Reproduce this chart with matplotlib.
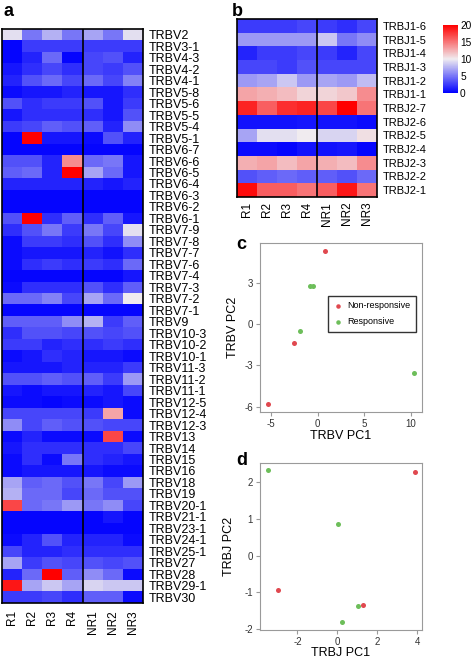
import numpy as np
import matplotlib
matplotlib.use("Agg")
import matplotlib.pyplot as plt
from matplotlib.colors import LinearSegmentedColormap

plt.rcParams['font.family'] = ['Liberation Sans', 'DejaVu Sans']
plt.rcParams['axes.unicode_minus'] = False

samples = ["R1", "R2", "R3", "R4", "NR1", "NR2", "NR3"]

trbv_genes = ["TRBV2", "TRBV3-1", "TRBV4-3", "TRBV4-2", "TRBV4-1", "TRBV5-8", "TRBV5-6",
              "TRBV5-5", "TRBV5-4", "TRBV5-1", "TRBV6-7", "TRBV6-6", "TRBV6-5", "TRBV6-4",
              "TRBV6-3", "TRBV6-2", "TRBV6-1", "TRBV7-9", "TRBV7-8", "TRBV7-7", "TRBV7-6",
              "TRBV7-4", "TRBV7-3", "TRBV7-2", "TRBV7-1", "TRBV9", "TRBV10-3", "TRBV10-2",
              "TRBV10-1", "TRBV11-3", "TRBV11-2", "TRBV11-1", "TRBV12-5", "TRBV12-4",
              "TRBV12-3", "TRBV13", "TRBV14", "TRBV15", "TRBV16", "TRBV18", "TRBV19",
              "TRBV20-1", "TRBV21-1", "TRBV23-1", "TRBV24-1", "TRBV25-1", "TRBV27",
              "TRBV28", "TRBV29-1", "TRBV30"]

trbv_vals = [
    [9.5, 5, 7.5, 5, 7, 5, 9.5],
    [0.3, 2.5, 2.5, 2.5, 2.5, 2.5, 2.5],
    [0.3, 1.5, 4.5, 0.3, 3, 3.5, 1.5],
    [1, 2, 3, 2, 3, 2.5, 3.5],
    [1.5, 3.5, 4.5, 3, 4.5, 3, 5.5],
    [0.5, 1, 1, 1.5, 1, 1, 2],
    [3.5, 2, 2.5, 2.5, 3.5, 1, 2.5],
    [1, 2, 2, 2, 2, 1, 3.5],
    [2.5, 3, 4, 3.5, 4, 1.5, 6],
    [0.3, 20, 1, 1, 0.5, 3.5, 1.5],
    [0.3, 0.3, 0.3, 0.3, 0.3, 0.3, 0.3],
    [3.5, 3.5, 1.5, 14, 4.5, 5, 1],
    [4, 4.5, 1.5, 20, 7, 4.5, 1],
    [1.5, 1.5, 1.5, 1.5, 1.5, 1, 1.5],
    [0.3, 0.3, 0.3, 0.3, 0.3, 0.3, 0.3],
    [0.3, 0.3, 0.3, 0.3, 0.3, 0.3, 0.3],
    [3.5, 20, 2, 4, 2, 4, 1],
    [2, 3.5, 5, 2.5, 5, 3, 9.5],
    [0.5, 2.5, 2.5, 2, 3.5, 2, 6],
    [0.5, 1, 1, 1, 1.5, 0.8, 2],
    [0.5, 2, 2.5, 2, 2.5, 2, 4.5],
    [0.3, 0.3, 0.3, 0.3, 0.3, 0.3, 1],
    [0.5, 2, 2, 2, 3.5, 2, 4],
    [4.5, 4.5, 5.5, 3, 7, 4.5, 10],
    [0.3, 0.3, 0.3, 0.3, 0.3, 0.3, 0.3],
    [4, 4, 4, 6, 7.5, 2.5, 4],
    [2, 3.5, 3.5, 3, 3.5, 3, 3.5],
    [2.5, 2.5, 1.5, 2, 2, 2.5, 2],
    [0.5, 1, 2, 1.5, 1, 1, 0.5],
    [1, 1, 1, 1.5, 1.5, 1.5, 2.5],
    [3.5, 3.5, 4, 3.5, 4, 2.5, 6.5],
    [1, 0.5, 1, 1, 1.5, 1, 3],
    [0.5, 0.5, 0.3, 0.5, 0.5, 1, 0.5],
    [3, 3, 3, 3, 2.5, 13, 0.5],
    [6, 3, 4, 3.5, 3.5, 3, 3],
    [0.5, 1.5, 0.5, 0.5, 0.5, 17, 0.5],
    [1, 2, 2, 2, 2, 2, 3],
    [0.5, 2, 0.5, 5, 2, 1.5, 1],
    [0.5, 1, 1, 1, 1, 0.5, 0.5],
    [7, 4, 4.5, 3.5, 5, 3, 6.5],
    [7.5, 4.5, 4.5, 3, 4.5, 3.5, 3.5],
    [17, 4.5, 5, 6.5, 5, 6, 3],
    [0.3, 0.3, 0.3, 0.3, 0.3, 1, 0.3],
    [0.3, 0.3, 0.3, 0.3, 0.3, 0.3, 0.3],
    [0.5, 1.5, 3.5, 1.5, 1.5, 1.5, 0.5],
    [3, 1.5, 1.5, 2, 2, 2, 2],
    [7, 2.5, 3.5, 3, 3.5, 3, 3.5],
    [1.5, 4.5, 20, 4, 6, 4.5, 0.5],
    [19, 7, 8.5, 7, 9, 8.5, 8.5],
    [2.5, 2.5, 3, 2, 4, 4, 0.5],
]

trbj_genes = ["TRBJ1-6", "TRBJ1-5", "TRBJ1-4", "TRBJ1-3", "TRBJ1-2", "TRBJ1-1", "TRBJ2-7",
              "TRBJ2-6", "TRBJ2-5", "TRBJ2-4", "TRBJ2-3", "TRBJ2-2", "TRBJ2-1"]

trbj_vals = [
    [2.5, 2.5, 2.5, 3, 2.5, 2, 3],
    [6.5, 6.5, 6.5, 6.5, 8.5, 5, 6],
    [1.5, 2.5, 2.5, 3, 2.5, 1.5, 3],
    [3, 3, 2.5, 3.5, 3, 3, 3],
    [6.5, 7, 8.5, 6.5, 7, 6.5, 8],
    [13, 12.5, 12, 11, 11, 11.5, 14],
    [18.5, 16, 18, 18.5, 17, 20, 15],
    [0.8, 0.8, 0.8, 1, 0.8, 0.8, 0.5],
    [7, 9.5, 9.5, 10, 9, 9, 10.5],
    [0.5, 0.5, 0.3, 0.8, 0.8, 1, 0.3],
    [12.5, 13, 12, 13, 12.5, 12, 14],
    [3.5, 4, 4.5, 4, 4, 3.5, 4.5],
    [19.5, 16, 16, 15, 16, 19, 15],
]

# PCA scores (non-responsive / responsive)
trbv_nr_x = [0.82, -2.54, -5.39]
trbv_nr_y = [5.34, -1.39, -5.85]
trbv_r_x = [-0.86, -0.5, -1.9, 10.36]
trbv_r_y = [2.8, 2.8, -0.49, -3.54]

trbj_nr_x = [3.88, -2.98, 1.27]
trbj_nr_y = [2.29, -0.95, -1.36]
trbj_r_x = [-3.48, 0.05, 1.03, 0.23]
trbj_r_y = [2.35, 0.86, -1.38, -1.82]

W, H = 472, 659
fig = plt.figure(figsize=(W / 100, H / 100), dpi=100)


def px_axes(x0, y0, x1, y1):
    return fig.add_axes([x0 / W, 1 - y1 / H, (x1 - x0) / W, (y1 - y0) / H])


cmap = LinearSegmentedColormap.from_list("bwr2", ["#0000FF", "#F0ECF0", "#FF0000"])


def heatmap(ax, vals, genes, fs):
    im = ax.imshow(np.array(vals), cmap=cmap, vmin=0, vmax=20, aspect="auto",
                   interpolation="nearest")
    ax.axvline(3.5, color="black", lw=1.2)
    ax.yaxis.tick_right()
    ax.set_yticks(range(len(genes)))
    ax.set_yticklabels(genes, fontsize=fs)
    ax.set_xticks(range(len(samples)))
    ax.set_xticklabels(samples, rotation=90, fontsize=8.5)
    ax.tick_params(length=0, pad=4)
    for s in ax.spines.values():
        s.set_linewidth(1.2)
    return im


ax_a = px_axes(2, 29, 143, 603)
heatmap(ax_a, trbv_vals, trbv_genes, 9)
ax_a.tick_params(axis="x", pad=5)

ax_b = px_axes(237, 19, 377, 197)
im = heatmap(ax_b, trbj_vals, trbj_genes, 8)
ax_b.tick_params(axis="x", pad=3.5)

cax = px_axes(443, 25, 458, 93)
cb = fig.colorbar(im, cax=cax, ticks=[0, 5, 10, 15, 20])
cb.outline.set_visible(False)
cb.ax.tick_params(length=0, labelsize=7.3, pad=1.5)

red = "#E0484F"
green = "#6DBE5A"


def scatter(ax, nrx, nry, rx, ry):
    ax.scatter(nrx, nry, s=13, color=red, label="Non-responsive", zorder=3, linewidths=0)
    ax.scatter(rx, ry, s=13, color=green, label="Responsive", zorder=3, linewidths=0)
    for s in ax.spines.values():
        s.set_color("#9A9A9A")
    ax.tick_params(labelsize=7, colors="#333333", length=3, width=0.8, color="#9A9A9A", pad=2)


ax_c = px_axes(260, 243, 422, 412)
scatter(ax_c, trbv_nr_x, trbv_nr_y, trbv_r_x, trbv_r_y)
ax_c.set_xlim(-6.2, 11.2)
ax_c.set_ylim(-6.4, 5.93)
ax_c.set_xticks([-5, 0, 5, 10])
ax_c.set_yticks([-6, -3, 0, 3])
ax_c.set_xlabel("TRBV PC1", fontsize=9, labelpad=1)
ax_c.set_ylabel("TRBV PC2", fontsize=9, labelpad=4)
leg = ax_c.legend(loc="upper left", bbox_to_anchor=((328 - 260) / 162, 1 - (296 - 243) / 169),
                  fontsize=6.5, frameon=True, fancybox=False, handlelength=1.0,
                  handletextpad=0.5, borderpad=0.6, labelspacing=0.75, borderaxespad=0,
                  markerscale=0.9)
leg.get_frame().set_edgecolor("black")
leg.get_frame().set_linewidth(1)

ax_d = px_axes(260, 463, 422, 630)
scatter(ax_d, trbj_nr_x, trbj_nr_y, trbj_r_x, trbj_r_y)
ax_d.set_xlim(-3.87, 4.23)
ax_d.set_ylim(-2.03, 2.53)
ax_d.set_xticks([-2, 0, 2, 4])
ax_d.set_yticks([-2, -1, 0, 1, 2])
ax_d.set_xlabel("TRBJ PC1", fontsize=9, labelpad=0)
ax_d.set_ylabel("TRBJ PC2", fontsize=9, labelpad=7)

for lab, x, y in [("a", 3, 3), ("b", 232, 3), ("c", 236, 236), ("d", 236, 452)]:
    fig.text(x / W, 1 - y / H, lab, fontsize=13, fontweight="bold", va="top", ha="left")

fig.savefig("out.png", dpi=100)
